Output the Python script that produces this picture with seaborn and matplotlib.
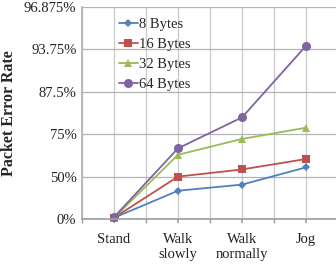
import numpy as np
import pandas as pd
import matplotlib
matplotlib.use('Agg')
import matplotlib.pyplot as plt
import seaborn as sns

# 1: données (taux d'erreur en %)
activities = ['Stand', 'Walk\nslowly', 'Walk\nnormally', 'Jog']
bytes_8 = [2, 37, 43, 57]
bytes_16 = [2, 50, 55.5, 62.5]
bytes_32 = [2, 65, 73, 77.5]
bytes_64 = [3, 68.5, 81, 94.1]
series_names = ['8 Bytes', '16 Bytes', '32 Bytes', '64 Bytes']
y_ticks = [0, 50, 75, 87.5, 93.75, 96.875]
y_tick_labels = ['0%', '50%', '75%', '87.5%', '93.75%', '96.875%']

df = pd.DataFrame({
    'Activity': activities * 4,
    'PER': bytes_8 + bytes_16 + bytes_32 + bytes_64,
    'Size': [n for n in series_names for _ in activities],
})

# 2: style global
sns.set_theme(style="whitegrid")
plt.rcParams['font.family'] = ['Liberation Serif', 'DejaVu Serif']

colors = ['#4F81BD', '#C0504D', '#9BBB59', '#8064A2']
markers = {'8 Bytes': 'D', '16 Bytes': 's', '32 Bytes': '^', '64 Bytes': 'o'}
sizes_mk = {'8 Bytes': 4.5, '16 Bytes': 5.5, '32 Bytes': 6, '64 Bytes': 6.5}

fig = plt.figure(figsize=(3.36, 2.66), dpi=100)
ax = fig.add_axes([82 / 336, 47 / 266, 256 / 336, 212 / 266])

# 3: échelle "log" de (1 - p)
def fwd(p):
    p = np.clip(np.asarray(p, dtype=float), -50, 99.9999)
    return -np.log2(1 - p / 100)

def inv(y):
    return 100 * (1 - np.power(2.0, -np.asarray(y, dtype=float)))

sns.lineplot(data=df, x='Activity', y='PER', hue='Size', style='Size',
             hue_order=series_names, style_order=series_names,
             palette=colors, markers=markers, dashes=False,
             linewidth=1.3, markeredgewidth=0, ax=ax, sort=False)

# taille des marqueurs par série
for line, name in zip(ax.lines, series_names):
    line.set_markersize(sizes_mk[name])
    line.set_clip_on(False)

ax.set_yscale('function', functions=(fwd, inv))
ax.set_ylim(0, 96.875)
ax.set_yticks(y_ticks)
ax.set_yticklabels(y_tick_labels)
ax.set_xlim(-0.5, 3.5)
ax.set_xticks(range(len(activities)))
ax.set_xticklabels(activities, linespacing=1.25)
ax.set_xticks(np.arange(-0.5, 4, 1), minor=True)

# 4: grille et axes
ax.grid(True, which='both', axis='x', color='#C8C8C8', linewidth=0.9)
ax.grid(True, which='major', axis='y', color='#B4B4B4', linewidth=0.9)
for side in ['top', 'right']:
    ax.spines[side].set_visible(False)
ax.spines['left'].set_color('#B4B4B4')
ax.spines['bottom'].set_color('#A0A0A0')
ax.tick_params(axis='x', which='both', bottom=True, length=3, color='#A0A0A0',
               labelsize=10.5, pad=7)
ax.tick_params(axis='y', length=0, labelsize=10.5, pad=4)
for lab in ax.get_xticklabels() + ax.get_yticklabels():
    lab.set_color('#222222')

# 5: étiquettes
ax.set_xlabel('')
ax.set_ylabel('Packet Error Rate', fontsize=11.5, fontweight='bold')
ax.yaxis.set_label_coords(-0.252, 0.5)

leg = ax.legend(loc='upper left', bbox_to_anchor=(0.12, 0.975), frameon=False,
                fontsize=10.5, handlelength=1.3, handletextpad=0.1,
                labelspacing=0.45, borderaxespad=0)
for h, name in zip(leg.legend_handles, series_names):
    h.set_markersize(sizes_mk[name])

fig.savefig('out.png', dpi=100)
